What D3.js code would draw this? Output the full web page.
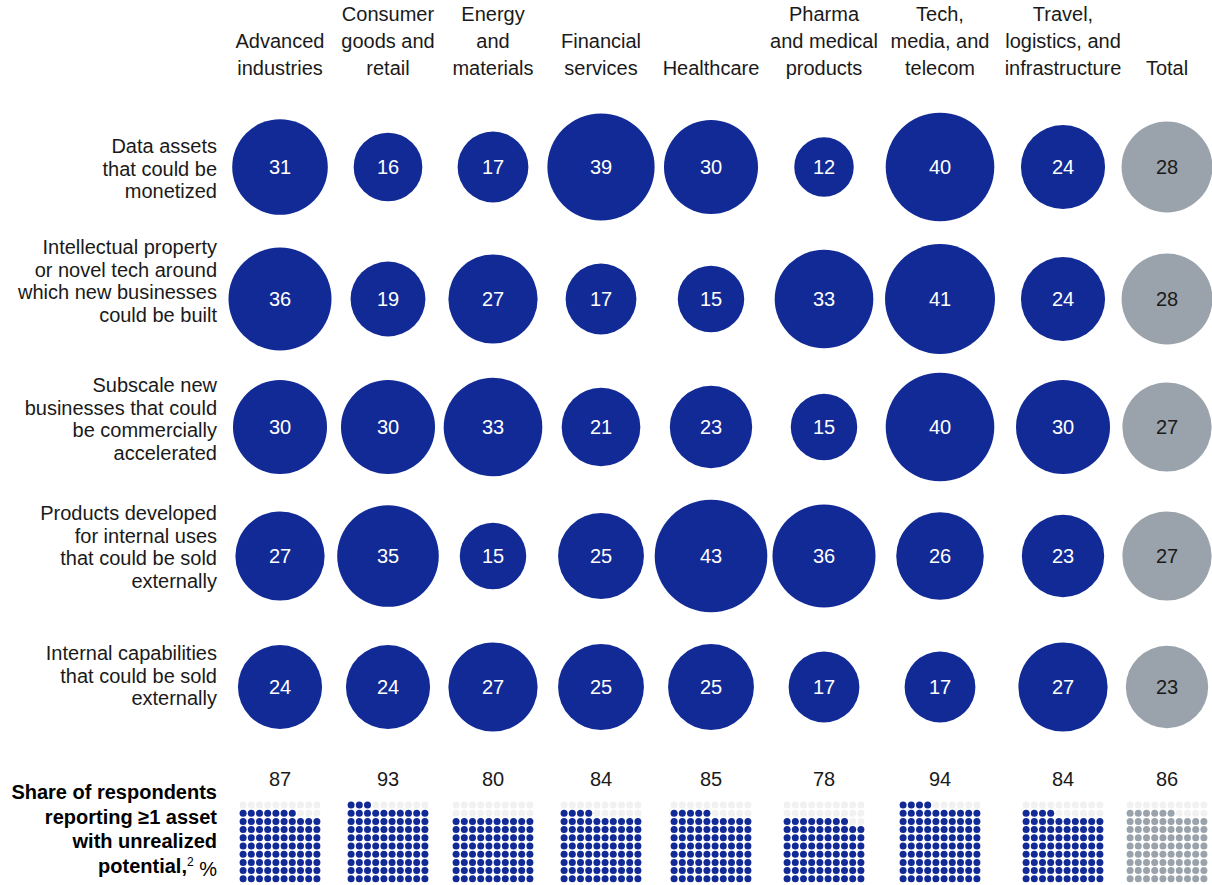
<!DOCTYPE html>
<html>
<head>
<meta charset="utf-8">
<script src="https://cdn.jsdelivr.net/npm/d3@7"></script>
<style>
  html, body { margin: 0; padding: 0; background: #fff; }
  svg { display: block; font-family: "Liberation Sans", Arial, sans-serif; }
</style>
</head>
<body>
<svg id="chart" width="1212" height="885"></svg>
<script>
// ---------- DATA ----------
const industries = [
  "Advanced industries", "Consumer goods and retail", "Energy and materials",
  "Financial services", "Healthcare", "Pharma and medical products",
  "Tech, media, and telecom", "Travel, logistics, and infrastructure", "Total"
];
const industryLabelLines = [
  ["Advanced", "industries"],
  ["Consumer", "goods and", "retail"],
  ["Energy", "and", "materials"],
  ["Financial", "services"],
  ["Healthcare"],
  ["Pharma", "and medical", "products"],
  ["Tech,", "media, and", "telecom"],
  ["Travel,", "logistics, and", "infrastructure"],
  ["Total"]
];
const assetTypes = [
  "Data assets that could be monetized",
  "Intellectual property or novel tech around which new businesses could be built",
  "Subscale new businesses that could be commercially accelerated",
  "Products developed for internal uses that could be sold externally",
  "Internal capabilities that could be sold externally"
];
const assetLabelLines = [
  ["Data assets", "that could be", "monetized"],
  ["Intellectual property", "or novel tech around", "which new businesses", "could be built"],
  ["Subscale new", "businesses that could", "be commercially", "accelerated"],
  ["Products developed", "for internal uses", "that could be sold", "externally"],
  ["Internal capabilities", "that could be sold", "externally"]
];
// values[row][industry]
const dataAssets          = [31, 16, 17, 39, 30, 12, 40, 24, 28];
const intellectualProp    = [36, 19, 27, 17, 15, 33, 41, 24, 28];
const subscaleBusinesses  = [30, 30, 33, 21, 23, 15, 40, 30, 27];
const productsInternal    = [27, 35, 15, 25, 43, 36, 26, 23, 27];
const internalCapabilities= [24, 24, 27, 25, 25, 17, 17, 27, 23];
const values = [dataAssets, intellectualProp, subscaleBusinesses, productsInternal, internalCapabilities];
const shareReporting = [87, 93, 80, 84, 85, 78, 94, 84, 86];

// ---------- LAYOUT ----------
const W = 1212, H = 885;
const colCenters = [280, 388, 493, 601, 711, 824, 940, 1063, 1167];
const rowCenters = [167, 299, 427, 556, 687];
const rowLabelFirstLine = [146, 247, 385, 513, 653]; // centre of first label line
const BLUE = "#112a96", GRAY = "#9aa3ab", EMPTY = "#f1f1f1", TEXT = "#1a1a1a";
const FS = 20;

const svg = d3.select("#chart");

const x = d3.scaleOrdinal().domain(industries).range(colCenters);
const y = d3.scaleOrdinal().domain(assetTypes).range(rowCenters);
const r = d3.scaleSqrt().domain([0, 43]).range([0, 56.3]);

// Column headers (bottom-aligned)
const lineH = 27, headerLastBaseline = 75;
industries.forEach((ind, i) => {
  const lines = industryLabelLines[i];
  const t = svg.append("text")
    .attr("text-anchor", "middle")
    .attr("font-size", FS)
    .attr("fill", TEXT);
  lines.forEach((ln, j) => {
    t.append("tspan")
      .attr("x", x(ind))
      .attr("y", headerLastBaseline - (lines.length - 1 - j) * lineH)
      .text(ln);
  });
});

// Row labels
const rowLineH = 22.6;
assetTypes.forEach((a, i) => {
  const t = svg.append("text")
    .attr("text-anchor", "end")
    .attr("font-size", FS)
    .attr("fill", TEXT);
  assetLabelLines[i].forEach((ln, j) => {
    t.append("tspan")
      .attr("x", 217)
      .attr("y", rowLabelFirstLine[i] + j * rowLineH)
      .attr("dy", "0.35em")
      .text(ln);
  });
});

// Bubbles
const cells = [];
assetTypes.forEach((a, i) => industries.forEach((ind, j) => {
  cells.push({ row: a, col: ind, v: values[i][j], total: ind === "Total" });
}));

const g = svg.append("g");
g.selectAll("circle").data(cells).join("circle")
  .attr("cx", d => x(d.col))
  .attr("cy", d => y(d.row))
  .attr("r", d => r(d.v))
  .attr("fill", d => d.total ? GRAY : BLUE);

g.selectAll("text").data(cells).join("text")
  .attr("x", d => x(d.col))
  .attr("y", d => y(d.row))
  .attr("dy", "0.35em")
  .attr("text-anchor", "middle")
  .attr("font-size", FS)
  .attr("fill", d => d.total ? TEXT : "#ffffff")
  .text(d => d.v);

// Share numbers
svg.selectAll("text.share").data(industries).join("text")
  .attr("class", "share")
  .attr("x", d => x(d))
  .attr("y", 779)
  .attr("dy", "0.35em")
  .attr("text-anchor", "middle")
  .attr("font-size", FS)
  .attr("fill", TEXT)
  .text((d, i) => shareReporting[i]);

// Dot grids (10x10)
const step = 8.2, dotR = 3.5, gridTop = 805;
const dots = [];
industries.forEach((ind, k) => {
  const v = shareReporting[k];
  const fullRows = Math.floor(v / 10), rem = v % 10;
  for (let row = 0; row < 10; row++) {
    const fromBottom = 9 - row;
    for (let c = 0; c < 10; c++) {
      const filled = fromBottom < fullRows || (fromBottom === fullRows && c < rem);
      dots.push({ ind, row, c, filled, total: ind === "Total" });
    }
  }
});
svg.append("g").selectAll("circle").data(dots).join("circle")
  .attr("cx", d => x(d.ind) + (d.c - 4.5) * step)
  .attr("cy", d => gridTop + d.row * step)
  .attr("r", dotR)
  .attr("fill", d => !d.filled ? EMPTY : (d.total ? GRAY : BLUE));

// Bottom-left bold label
const bl = svg.append("text")
  .attr("text-anchor", "end")
  .attr("font-size", FS)
  .attr("font-weight", "bold")
  .attr("fill", "#000");
const blLines = ["Share of respondents", "reporting \u22651 asset", "with unrealized"];
blLines.forEach((ln, j) => {
  bl.append("tspan").attr("x", 217).attr("y", 792 + j * 24.5).attr("dy", "0.35em").text(ln);
});
const last = bl.append("tspan").attr("x", 217).attr("y", 866).attr("dy", "0.35em");
last.text("potential,");
last.append("tspan").attr("font-size", 12).attr("font-weight", "normal").attr("dy", "-0.6em").text("2");
last.append("tspan").attr("font-weight", "normal").attr("dy", "0.5em").text("\u00a0%");
</script>
</body>
</html>
